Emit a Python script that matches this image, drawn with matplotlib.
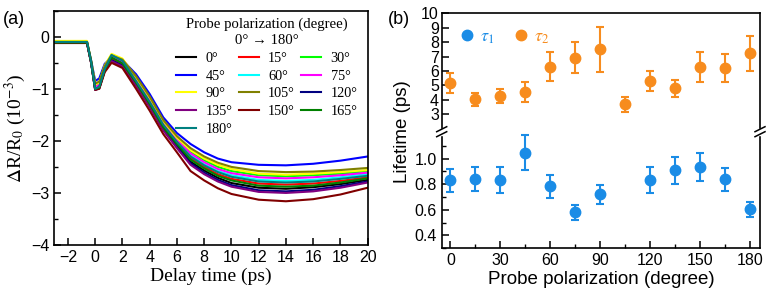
import matplotlib.pyplot as plt
from matplotlib.lines import Line2D
from matplotlib.patches import Rectangle
from matplotlib.ticker import MultipleLocator

plt.rcParams['mathtext.fontset'] = 'stix'
plt.rcParams['xtick.direction'] = 'in'
plt.rcParams['ytick.direction'] = 'in'

# ---------------- panel (a): fitted dR/R0 curves ----------------
delay_t = [-3, -0.6, -0.3, 0, 0.3, 0.7, 1.2, 2, 3, 4, 5, 6, 7, 8, 9, 10, 12, 14, 16, 18, 20]

fit_0 = [-0.11, -0.11, -0.49, -1.01, -0.98, -0.64, -0.44, -0.54, -0.90, -1.31, -1.76, -2.09, -2.40, -2.57, -2.71, -2.81, -2.90, -2.92, -2.89, -2.83, -2.75]
fit_15 = [-0.12, -0.12, -0.48, -0.98, -0.95, -0.62, -0.42, -0.52, -0.87, -1.27, -1.72, -2.04, -2.33, -2.50, -2.64, -2.73, -2.82, -2.84, -2.82, -2.77, -2.70]
fit_30 = [-0.10, -0.10, -0.47, -0.95, -0.90, -0.57, -0.35, -0.45, -0.80, -1.19, -1.64, -1.96, -2.21, -2.37, -2.50, -2.58, -2.66, -2.68, -2.66, -2.63, -2.58]
fit_45 = [-0.10, -0.10, -0.45, -0.85, -0.80, -0.52, -0.40, -0.45, -0.72, -1.10, -1.55, -1.85, -2.06, -2.22, -2.34, -2.41, -2.46, -2.47, -2.44, -2.38, -2.30]
fit_60 = [-0.10, -0.10, -0.47, -0.97, -0.94, -0.61, -0.37, -0.47, -0.84, -1.23, -1.68, -2.01, -2.28, -2.45, -2.58, -2.66, -2.75, -2.77, -2.75, -2.70, -2.64]
fit_75 = [-0.11, -0.11, -0.47, -0.96, -0.92, -0.59, -0.38, -0.48, -0.82, -1.21, -1.66, -1.98, -2.24, -2.41, -2.54, -2.62, -2.70, -2.72, -2.70, -2.66, -2.61]
fit_90 = [-0.08, -0.08, -0.46, -0.92, -0.88, -0.55, -0.33, -0.42, -0.78, -1.17, -1.62, -1.94, -2.18, -2.34, -2.46, -2.54, -2.63, -2.65, -2.63, -2.60, -2.56]
fit_105 = [-0.10, -0.10, -0.46, -0.90, -0.86, -0.56, -0.36, -0.44, -0.76, -1.15, -1.60, -1.91, -2.14, -2.30, -2.42, -2.50, -2.58, -2.60, -2.59, -2.56, -2.52]
fit_120 = [-0.12, -0.12, -0.49, -1.02, -0.99, -0.65, -0.45, -0.55, -0.92, -1.33, -1.78, -2.12, -2.43, -2.61, -2.75, -2.85, -2.95, -2.97, -2.94, -2.87, -2.78]
fit_135 = [-0.12, -0.12, -0.50, -1.02, -0.99, -0.66, -0.47, -0.57, -0.94, -1.35, -1.80, -2.14, -2.46, -2.64, -2.78, -2.88, -2.98, -3.00, -2.97, -2.90, -2.80]
fit_150 = [-0.12, -0.12, -0.50, -1.02, -1.00, -0.68, -0.50, -0.60, -1.00, -1.42, -1.87, -2.22, -2.58, -2.76, -2.91, -3.02, -3.13, -3.16, -3.12, -3.03, -2.90]
fit_165 = [-0.11, -0.11, -0.48, -1.00, -0.97, -0.63, -0.40, -0.51, -0.88, -1.29, -1.74, -2.06, -2.36, -2.53, -2.67, -2.76, -2.86, -2.88, -2.86, -2.80, -2.72]
fit_180 = [-0.10, -0.10, -0.48, -1.00, -0.96, -0.62, -0.35, -0.46, -0.85, -1.25, -1.69, -2.02, -2.30, -2.47, -2.60, -2.69, -2.78, -2.80, -2.78, -2.73, -2.67]

angles = [0, 15, 30, 45, 60, 75, 90, 105, 120, 135, 150, 165, 180]
fits = [fit_0, fit_15, fit_30, fit_45, fit_60, fit_75, fit_90, fit_105,
        fit_120, fit_135, fit_150, fit_165, fit_180]
curve_colors = ['black', 'red', '#00ff00', 'blue', 'cyan', 'magenta', 'yellow',
                '#808000', '#000080', '#800080', '#800000', '#008000', '#008080']

# ---------------- panel (b): lifetimes ----------------
pol_tau1 = [0, 15, 30, 45, 60, 75, 90, 120, 135, 150, 165, 180]
tau1 = [0.83, 0.84, 0.835, 1.045, 0.785, 0.58, 0.72, 0.835, 0.91, 0.935, 0.84, 0.605]
tau1_err = [0.087, 0.095, 0.10, 0.137, 0.09, 0.06, 0.077, 0.10, 0.105, 0.11, 0.09, 0.06]

pol_tau2 = [0, 15, 30, 45, 60, 75, 90, 105, 120, 135, 150, 165, 180]
tau2 = [5.15, 4.06, 4.27, 4.55, 6.3, 6.93, 7.5, 3.7, 5.33, 4.8, 6.3, 6.23, 7.23]
tau2_err = [0.7, 0.45, 0.48, 0.7, 1.0, 1.08, 1.55, 0.53, 0.7, 0.6, 1.05, 0.97, 1.2]

c_tau1 = '#1a8ce6'
c_tau2 = '#f78c1e'

serif = ['Liberation Serif', 'DejaVu Serif']
sans = ['Liberation Sans', 'DejaVu Sans']

W, H = 770, 298
fig = plt.figure(figsize=(W / 100, H / 100), dpi=100)


def box(l, t, r, b):
    # pixel box -> figure fraction
    return [l / W, 1 - b / H, (r - l) / W, (b - t) / H]


# ---- (a) ----
ax = fig.add_axes(box(54.3, 10.7, 367.7, 245))
lines = []
for ang, y, c in zip(angles, fits, curve_colors):
    ln, = ax.plot(delay_t, y, color=c, lw=1.5, label=f'{ang}°')
    lines.append(ln)

ax.set_xlim(-3, 20)
ax.set_ylim(-4, 0.5)
ax.xaxis.set_major_locator(MultipleLocator(2))
ax.yaxis.set_major_locator(MultipleLocator(1))
ax.yaxis.set_minor_locator(MultipleLocator(0.5))
ax.tick_params(which='major', length=5, width=1.1, labelsize=11.5)
ax.tick_params(which='minor', length=3, width=1.0)
for lb in ax.get_xticklabels() + ax.get_yticklabels():
    lb.set_family(sans)
for s in ax.spines.values():
    s.set_linewidth(1.2)
ax.set_xlabel('Delay time (ps)', family=serif, fontsize=14, labelpad=2)
ax.set_ylabel(r'$\Delta$R/R$_0$ (10$^{-3}$)', family=serif, fontsize=14, labelpad=2)

# legend filled row-wise like the original (matplotlib fills columns)
order = [0, 3, 6, 9, 12, 1, 4, 7, 10, 2, 5, 8, 11]
leg = ax.legend([lines[i] for i in order], [lines[i].get_label() for i in order],
                ncol=3, loc='upper right', bbox_to_anchor=(1.0, 1.015),
                frameon=False, prop={'family': serif, 'size': 10.3},
                title='Probe polarization (degree)\n0° → 180°',
                title_fontproperties={'family': serif, 'size': 10.6},
                handlelength=1.4, handletextpad=0.65, columnspacing=0.45,
                labelspacing=0.33, borderpad=0.2, alignment='center')
leg.get_title().set_multialignment('center')
leg.get_title().set_linespacing(1.35)

fig.text(3 / W, 1 - 20 / H, '(a)', family=sans, fontsize=13, va='center')

# ---- (b): broken y axis made of two stacked axes ----
ax_top = fig.add_axes(box(441.7, 13.3, 760, 131.7))
ax_bot = fig.add_axes(box(441.7, 131.7, 760, 248.3), sharex=ax_top)

ax_top.errorbar(pol_tau2, tau2, yerr=tau2_err, fmt='o', color=c_tau2, ms=7.5,
                elinewidth=1.5, capsize=3, capthick=1.5)
ax_bot.errorbar(pol_tau1, tau1, yerr=tau1_err, fmt='o', color=c_tau1, ms=7.5,
                elinewidth=1.5, capsize=3, capthick=1.5)

ax_top.set_ylim(1.8, 10)
ax_bot.set_ylim(0.3, 1.21)
ax_bot.set_xlim(-5.2, 186)
ax_bot.xaxis.set_major_locator(MultipleLocator(30))
ax_bot.xaxis.set_minor_locator(MultipleLocator(15))
ax_top.set_yticks([3, 4, 5, 6, 7, 8, 9, 10])
ax_bot.set_yticks([0.4, 0.6, 0.8, 1.0])
ax_bot.set_yticks([0.3, 0.5, 0.7, 0.9, 1.1], minor=True)

ax_top.spines['bottom'].set_visible(False)
ax_bot.spines['top'].set_visible(False)
ax_top.tick_params(axis='x', which='both', bottom=False, labelbottom=False)
for a in (ax_top, ax_bot):
    a.tick_params(which='major', length=5, width=1.1, labelsize=11.5)
    a.tick_params(which='minor', length=3, width=1.0)
    for s in a.spines.values():
        s.set_linewidth(1.2)
    for lb in a.get_xticklabels() + a.get_yticklabels():
        lb.set_family(sans)
ax_top.tick_params(axis='y', pad=2)
ax_bot.set_xlabel('Probe polarization (degree)', family=sans, fontsize=13.5, labelpad=2)
fig.text(394 / W, 1 - 132 / H, 'Lifetime (ps)', family=sans, fontsize=13.5,
         rotation=90, ha='left', va='center')

handles = [Line2D([], [], ls='', marker='o', ms=7.5, color=c_tau1),
           Line2D([], [], ls='', marker='o', ms=7.5, color=c_tau2)]
ax_top.legend(handles, [r'$\tau_1$', r'$\tau_2$'], ncol=2, loc='upper left',
              bbox_to_anchor=(0.0, 1.0), frameon=False, fontsize=13,
              labelcolor='linecolor', handletextpad=0.1, columnspacing=0.9,
              borderpad=0.3, handlelength=1.2)

fig.text(388 / W, 1 - 20 / H, '(b)', family=sans, fontsize=13, va='center')

# break marks on both vertical spines
yb = 131.7
for xs in (441.7, 760):
    fig.add_artist(Rectangle(((xs - 2) / W, 1 - (yb + 3) / H), 4 / W, 6 / H,
                             transform=fig.transFigure, color='white', zorder=10))
    for dy in (-2.5, 2.5):
        fig.add_artist(Line2D([(xs - 5) / W, (xs + 5) / W],
                              [1 - (yb + dy + 2.5) / H, 1 - (yb + dy - 2.5) / H],
                              transform=fig.transFigure, color='black', lw=1.1, zorder=11))

fig.savefig('out.png', dpi=100)
